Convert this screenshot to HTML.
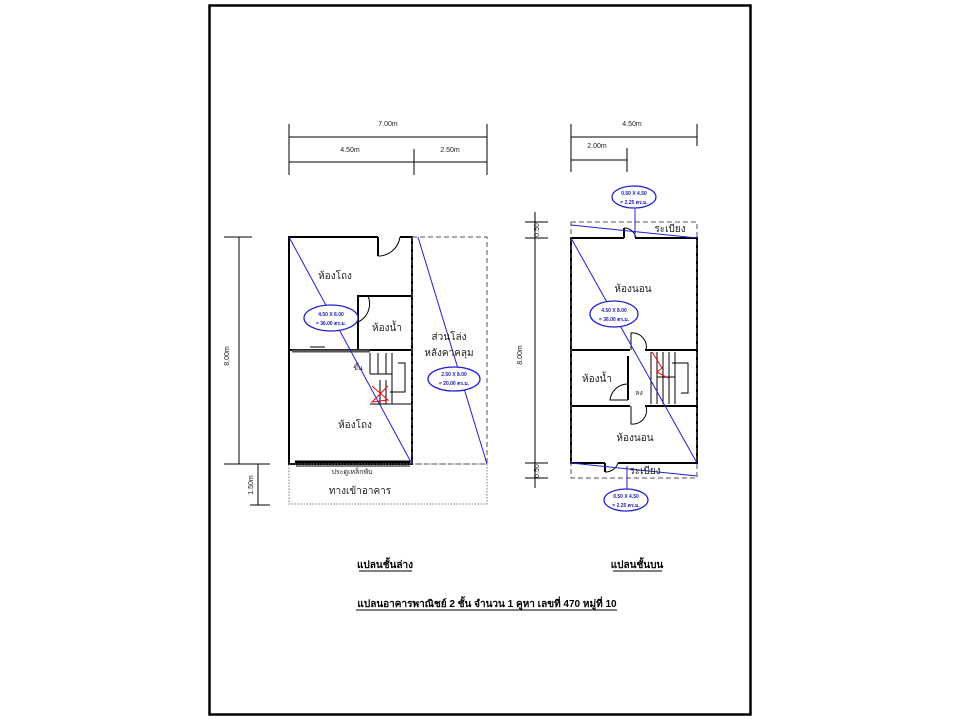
<!DOCTYPE html>
<html><head><meta charset="utf-8"><style>
body{margin:0;background:#fff;}
svg{display:block;font-family:"Liberation Sans",sans-serif;}
.t{font-size:10px;fill:#222;}
.s{font-size:7px;fill:#222;}
.e{font-size:5px;fill:#2020c0;font-weight:bold;}
</style></head><body>
<svg width="960" height="720" viewBox="0 0 960 720">
<rect x="0" y="0" width="960" height="720" fill="#fff"/>
<rect x="209.5" y="5.5" width="541" height="709" fill="none" stroke="#000" stroke-width="2.5"/>

<!-- LEFT PLAN dims -->
<g stroke="#000" stroke-width="1" fill="none">
<line x1="289" y1="137" x2="487" y2="137"/>
<line x1="289" y1="124" x2="289" y2="175"/><line x1="487" y1="124" x2="487" y2="175"/>
<line x1="289" y1="162" x2="487" y2="162"/>
<line x1="414" y1="149" x2="414" y2="175"/>
<line x1="239" y1="237" x2="239" y2="464"/>
<line x1="224" y1="237" x2="252" y2="237"/><line x1="224" y1="464" x2="270" y2="464"/>
<line x1="258" y1="464" x2="258" y2="505"/><line x1="250" y1="505" x2="270" y2="505"/>
</g>
<text class="s" x="388" y="126" text-anchor="middle">7.00m</text>
<text class="s" x="350" y="152" text-anchor="middle">4.50m</text>
<text class="s" x="450" y="152" text-anchor="middle">2.50m</text>
<text class="s" transform="translate(229,356) rotate(-90)" text-anchor="middle">8.00m</text>
<text class="s" transform="translate(253,485) rotate(-90)" text-anchor="middle">1.50m</text>

<!-- left building -->
<g stroke="#000" stroke-width="2" fill="none">
<polyline points="378,237 289,237 289,464 412,464 412,237 400,237"/>
<line x1="378" y1="237" x2="378" y2="256"/>
<path d="M378,256 A22,22 0 0 0 400,237" stroke-width="1"/>
<line x1="289" y1="350" x2="412" y2="350"/>
<polyline points="368,296 358,296 358,350"/>
<line x1="358" y1="296" x2="412" y2="296"/>
<path d="M368,296 A20,20 0 0 1 358,322" stroke-width="1"/>
</g>
<line x1="292" y1="351" x2="370" y2="351" stroke="#555" stroke-width="3"/>
<line x1="310" y1="347" x2="325" y2="347" stroke="#000" stroke-width="1"/>
<line x1="295" y1="462" x2="410" y2="462" stroke="#000" stroke-width="3"/>
<line x1="296" y1="466" x2="410" y2="466" stroke="#000" stroke-width="1"/>
<!-- stairs left -->
<g stroke="#000" stroke-width="1" fill="none">
<line x1="370" y1="353" x2="370" y2="374"/>
<line x1="378" y1="353" x2="378" y2="374"/>
<line x1="386" y1="353" x2="386" y2="374"/>
<line x1="392" y1="353" x2="392" y2="404"/>
<line x1="370" y1="374" x2="392" y2="374"/>
<polyline points="398,363 405,363 405,392 390,392"/>
<line x1="370" y1="404" x2="412" y2="404"/>
<line x1="380" y1="380" x2="380" y2="404"/>
<line x1="386" y1="380" x2="386" y2="404"/>
</g>
<path d="M372,386 L388,400 L372,402 L388,386" stroke="red" fill="none" stroke-width="1"/>
<rect x="289" y="464" width="198" height="40" fill="none" stroke="#777" stroke-dasharray="1.5,1.5"/>
<rect x="412" y="237" width="75" height="227" fill="none" stroke="#555" stroke-dasharray="5,3"/>
<line x1="289" y1="237" x2="412" y2="464" stroke="#2020d0"/>
<line x1="418" y1="237" x2="487" y2="464" stroke="#2020d0"/>
<ellipse cx="331" cy="318" rx="27" ry="13" fill="#fff" stroke="#2020d0" stroke-width="1.3"/>
<text class="e" x="331" y="316" text-anchor="middle">4.50 X 8.00</text>
<text class="e" x="331" y="325" text-anchor="middle">= 36.00 ตร.ม.</text>
<ellipse cx="454" cy="379" rx="26" ry="12" fill="#fff" stroke="#2020d0" stroke-width="1.3"/>
<text class="e" x="454" y="376" text-anchor="middle">2.50 X 8.00</text>
<text class="e" x="454" y="385" text-anchor="middle">= 20.00 ตร.ม.</text>
<text class="t" x="335" y="279" text-anchor="middle">ห้องโถง</text>
<text class="t" x="387" y="331" text-anchor="middle">ห้องน้ำ</text>
<text class="t" x="449" y="340" text-anchor="middle">ส่วนโล่ง</text>
<text class="t" x="449" y="356" text-anchor="middle">หลังคาคลุม</text>
<text class="s" x="358" y="370" text-anchor="middle">ขึ้น</text>
<text class="t" x="355" y="428" text-anchor="middle">ห้องโถง</text>
<text class="s" x="352" y="474" text-anchor="middle">ประตูเหล็กพับ</text>
<text class="t" x="360" y="494" text-anchor="middle">ทางเข้าอาคาร</text>

<!-- RIGHT PLAN dims -->
<g stroke="#000" stroke-width="1" fill="none">
<line x1="571" y1="137" x2="697" y2="137"/>
<line x1="571" y1="124" x2="571" y2="172"/><line x1="697" y1="124" x2="697" y2="146"/>
<line x1="571" y1="160" x2="627" y2="160"/>
<line x1="627" y1="148" x2="627" y2="172"/>
<line x1="535" y1="212" x2="535" y2="488"/>
<line x1="525" y1="222" x2="548" y2="222"/><line x1="525" y1="238" x2="548" y2="238"/>
<line x1="525" y1="463" x2="548" y2="463"/><line x1="525" y1="478" x2="548" y2="478"/>
</g>
<text class="s" x="632" y="126" text-anchor="middle">4.50m</text>
<text class="s" x="597" y="148" text-anchor="middle">2.00m</text>
<text class="s" transform="translate(522,355) rotate(-90)" text-anchor="middle">8.00m</text>
<text class="s" transform="translate(539,230) rotate(-90)" text-anchor="middle">0.50</text>
<text class="s" transform="translate(539,471) rotate(-90)" text-anchor="middle">0.50</text>

<g stroke="#000" stroke-width="2" fill="none">
<polyline points="624,238 571,238 571,463 605,463"/>
<polyline points="618,463 697,463 697,238 635,238"/>
<line x1="624" y1="238" x2="624" y2="228"/>
<line x1="605" y1="463" x2="605" y2="472"/>
<line x1="571" y1="350" x2="630" y2="350"/><line x1="645" y1="350" x2="697" y2="350"/>
<line x1="571" y1="406" x2="630" y2="406"/><line x1="645" y1="406" x2="697" y2="406"/>
<line x1="628" y1="356" x2="628" y2="400"/>
</g>
<g stroke="#000" stroke-width="1" fill="none">
<path d="M624,228 A12,12 0 0 1 636,238"/>
<path d="M605,472 A13,13 0 0 0 618,463"/>
<path d="M631,350 L631,333 A14,14 0 0 1 646,350"/>
<path d="M631,406 L631,424 A14,14 0 0 0 646,406"/>
<path d="M628,400 L610,400 A18,18 0 0 1 628,384"/>
<line x1="651" y1="352" x2="651" y2="404"/><line x1="657" y1="352" x2="657" y2="404"/>
<line x1="663" y1="352" x2="663" y2="404"/><line x1="669" y1="352" x2="669" y2="404"/>
<line x1="675" y1="352" x2="675" y2="404"/>
<line x1="657" y1="377" x2="675" y2="377"/>
<polyline points="672,363 688,363 688,393 681,393"/>
</g>
<path d="M652,352 L662,368 L657,372 L668,378" stroke="red" fill="none" stroke-width="1"/>
<rect x="571" y="222" width="126" height="256" fill="none" stroke="#555" stroke-dasharray="5,3"/>
<line x1="571" y1="225" x2="697" y2="238" stroke="#2020d0"/>
<line x1="571" y1="463" x2="697" y2="476" stroke="#2020d0"/>
<line x1="571" y1="238" x2="697" y2="463" stroke="#2020d0"/>
<line x1="635" y1="209" x2="635" y2="238" stroke="#2020d0"/>
<line x1="627" y1="466" x2="627" y2="489" stroke="#2020d0"/>
<ellipse cx="634" cy="197" rx="22" ry="11" fill="#fff" stroke="#2020d0" stroke-width="1.3"/>
<text class="e" x="634" y="195" text-anchor="middle">0.50 X 4.50</text>
<text class="e" x="634" y="204" text-anchor="middle">= 2.25 ตร.ม.</text>
<ellipse cx="626" cy="500" rx="22" ry="11" fill="#fff" stroke="#2020d0" stroke-width="1.3"/>
<text class="e" x="626" y="498" text-anchor="middle">0.50 X 4.50</text>
<text class="e" x="626" y="507" text-anchor="middle">= 2.25 ตร.ม.</text>
<ellipse cx="614" cy="314" rx="24" ry="13" fill="#fff" stroke="#2020d0" stroke-width="1.3"/>
<text class="e" x="614" y="312" text-anchor="middle">4.50 X 8.00</text>
<text class="e" x="614" y="321" text-anchor="middle">= 36.00 ตร.ม.</text>
<text class="t" x="670" y="232" text-anchor="middle">ระเบียง</text>
<text class="t" x="645" y="474" text-anchor="middle">ระเบียง</text>
<text class="t" x="633" y="292" text-anchor="middle">ห้องนอน</text>
<text class="t" x="597" y="382" text-anchor="middle">ห้องน้ำ</text>
<text class="s" x="639" y="395" text-anchor="middle">ลง</text>
<text class="t" x="635" y="441" text-anchor="middle">ห้องนอน</text>

<!-- titles -->
<g font-weight="bold" font-size="10" fill="#000">
<text x="385" y="568" text-anchor="middle">แปลนชั้นล่าง</text>
<text x="637" y="568" text-anchor="middle">แปลนชั้นบน</text>
<text x="487" y="607" text-anchor="middle">แปลนอาคารพาณิชย์ 2 ชั้น จำนวน 1 คูหา เลขที่  470 หมู่ที่ 10</text>
</g>
<g stroke="#000" stroke-width="1">
<line x1="359" y1="571" x2="412" y2="571"/>
<line x1="613" y1="571" x2="662" y2="571"/>
<line x1="356" y1="610" x2="617" y2="610"/>
</g>
</svg>
</body></html>
